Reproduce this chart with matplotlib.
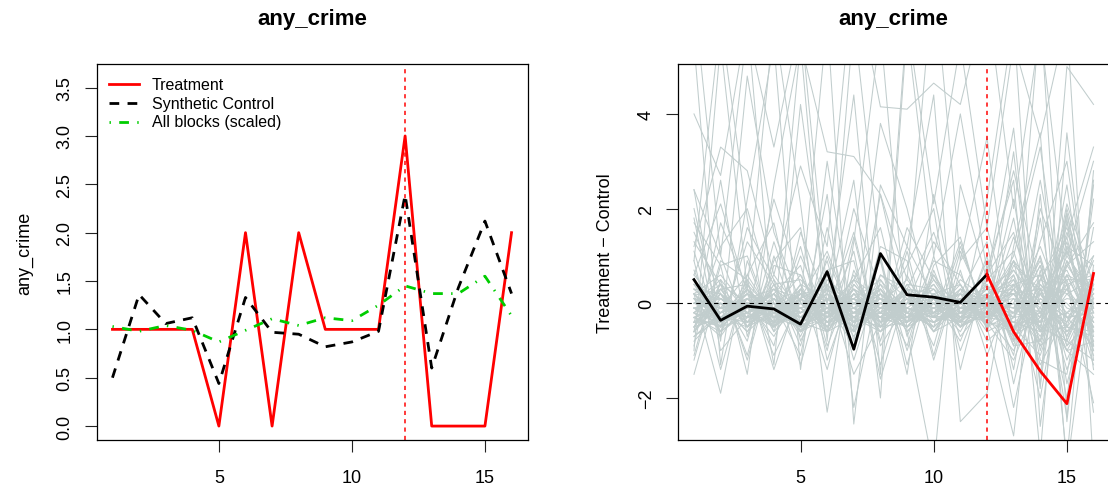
import matplotlib
matplotlib.use("Agg")
import matplotlib.pyplot as plt
import numpy as np

plt.rcParams['font.family'] = ['Liberation Sans', 'DejaVu Sans']

# ---------------- data ----------------
periods = list(range(1, 17))
treatment = [1, 1, 1, 1, 0, 2, 0, 2, 1, 1, 1, 3, 0, 0, 0, 2]
synthetic = [0.50, 1.36, 1.06, 1.12, 0.44, 1.33, 0.97, 0.95, 0.82, 0.87, 0.98, 2.39, 0.60, 1.43, 2.12, 1.37]
all_blocks = [1.03, 0.98, 1.04, 0.99, 0.87, 0.99, 1.11, 1.04, 1.12, 1.09, 1.25, 1.45, 1.37, 1.37, 1.55, 1.14]
treat_period = 12

left_yticks = [0.0, 0.5, 1.0, 1.5, 2.0, 2.5, 3.0, 3.5]
right_yticks = [-2, 0, 2, 4]
xticks = [5, 10, 15]

# placebo gaps (treatment - control) for other blocks
placebo_core = [
    [0.3, -0.2, 0.1, -0.4, 0.2, -0.3, 0.1, -0.5, 0.0, -0.2, 0.3, -0.1, -0.6, 0.4, -0.3, 0.2],
    [-0.5, 0.2, -0.3, 0.1, -0.6, 0.4, -0.2, 0.3, -0.4, 0.1, -0.3, 0.2, 0.5, -0.8, 0.9, -0.4],
    [0.1, -0.6, 0.4, -0.2, 0.0, -0.5, 0.3, -0.1, 0.2, -0.6, 0.0, -0.3, -1.0, 0.3, -0.7, 0.6],
    [-0.2, 0.3, -0.5, 0.5, -0.3, 0.0, -0.6, 0.2, -0.2, 0.4, -0.5, 0.1, 0.2, -0.4, 1.2, -0.9],
    [0.6, -0.1, 0.0, -0.7, 0.3, -0.2, 0.5, -0.4, 0.1, -0.1, 0.2, -0.6, -0.3, 0.8, -1.2, 0.1],
    [-0.7, -0.3, 0.2, 0.0, -0.4, 0.3, -0.1, -0.6, 0.4, -0.3, -0.2, 0.3, 0.7, -0.2, 0.4, -1.1],
    [0.0, 0.4, -0.4, 0.3, -0.1, -0.6, 0.2, 0.1, -0.5, 0.2, 0.4, -0.4, -0.5, -1.1, 0.6, 0.3],
    [-0.3, -0.5, 0.5, -0.3, 0.4, 0.1, -0.4, 0.4, -0.1, -0.4, 0.1, 0.0, 0.9, 0.2, -0.5, -0.6],
    [0.4, 0.1, -0.2, 0.2, -0.7, 0.5, 0.0, -0.3, 0.3, 0.0, -0.6, 0.4, -0.8, 0.5, 1.6, -0.2],
    [-0.1, -0.4, 0.3, -0.5, 0.1, -0.4, 0.4, -0.2, -0.3, 0.5, -0.1, -0.2, 0.3, -0.9, -0.4, 0.9],
    [0.2, 0.6, -0.1, 0.0, -0.2, 0.2, -0.7, 0.0, 0.5, -0.2, 0.3, -0.5, -0.2, 1.0, -0.9, -0.3],
    [-0.4, 0.0, -0.6, 0.4, 0.5, -0.1, 0.3, -0.6, 0.0, 0.3, -0.4, 0.5, 1.1, -0.6, 0.2, 0.5],
    [0.5, -0.3, 0.0, -0.1, -0.5, 0.6, -0.3, 0.3, -0.6, 0.0, 0.2, -0.1, -0.7, -0.3, 1.9, -0.7],
    [-0.6, 0.3, 0.4, -0.6, 0.0, -0.2, 0.1, 0.5, -0.2, -0.5, 0.0, 0.2, 0.4, 0.6, -1.4, 0.0],
    [0.1, -0.1, -0.3, 0.6, -0.2, 0.2, -0.5, -0.1, 0.3, 0.2, -0.3, -0.3, -0.4, -0.6, 0.8, 1.3],
    [-0.2, -0.7, 0.1, -0.2, 0.3, -0.5, 0.6, -0.4, -0.1, -0.3, 0.5, 0.1, 0.6, -1.3, -0.2, -0.5],
    [0.3, 0.2, -0.5, 0.1, -0.3, 0.0, -0.2, 0.2, -0.4, 0.6, -0.2, -0.4, -1.2, 0.2, 1.1, -0.1],
    [-0.8, -0.2, 0.2, -0.4, 0.1, 0.4, -0.4, -0.2, 0.2, -0.1, 0.1, 0.3, 0.2, -0.5, -0.8, 0.7],
    [0.0, 0.5, -0.2, 0.3, -0.6, -0.3, 0.3, 0.0, -0.5, 0.1, -0.5, -0.2, 1.4, 0.0, 0.5, -1.3],
    [-0.3, -0.1, 0.6, -0.3, 0.2, 0.3, -0.6, 0.6, 0.1, -0.6, 0.3, 0.0, -0.1, 0.9, -0.6, 0.3],
    [0.2, -0.4, -0.1, -0.5, 0.4, -0.6, 0.2, -0.3, 0.4, 0.3, -0.1, 0.4, -0.9, -0.8, 2.1, 0.4],
    [-0.5, 0.4, 0.0, 0.2, -0.4, 0.1, 0.0, 0.3, -0.3, -0.2, 0.4, -0.5, 0.8, 0.3, -1.0, -0.8],
    [0.7, -0.6, 0.3, -0.3, -0.1, 0.2, -0.3, -0.5, 0.1, 0.4, -0.3, 0.2, -0.2, -0.4, 0.3, 1.0],
    [-0.1, 0.1, -0.4, 0.4, -0.5, -0.1, 0.5, 0.1, -0.2, -0.4, 0.0, -0.3, 0.0, 1.2, -0.3, -0.2],
    [0.4, -0.3, 0.2, -0.1, 0.6, -0.4, -0.1, 0.4, -0.6, 0.1, 0.2, 0.1, -0.5, -0.2, 1.4, -1.0],
]
placebo_tight = [
    [-0.1, -0.3, -0.2, 0.1, -0.4, -0.1, -0.3, 0.0, -0.2, -0.4, -0.1, -0.2, -0.5, 0.1, -0.3, -0.2],
    [-0.4, -0.1, -0.3, -0.2, 0.0, -0.5, -0.2, -0.3, 0.1, -0.2, -0.3, 0.0, 0.2, -0.6, 0.3, -0.4],
    [0.2, -0.5, 0.0, -0.3, -0.2, 0.1, -0.4, -0.2, -0.3, 0.0, -0.5, -0.1, -0.3, -0.2, -0.8, 0.4],
    [-0.6, 0.1, -0.2, -0.4, 0.1, -0.3, 0.0, -0.4, -0.1, -0.3, 0.1, -0.4, 0.3, -0.3, 0.6, -0.6],
    [0.0, -0.2, 0.2, -0.1, -0.3, 0.2, -0.1, 0.1, -0.4, 0.1, -0.2, 0.1, -0.6, 0.4, -0.2, 0.1],
    [-0.3, -0.6, -0.1, 0.0, -0.5, -0.2, 0.2, -0.5, 0.0, -0.1, -0.4, -0.3, 0.0, -0.9, 0.9, -0.3],
    [0.1, 0.0, -0.4, -0.3, 0.2, -0.4, -0.2, 0.2, -0.2, -0.5, 0.0, 0.1, -0.2, 0.2, -0.5, -0.7],
    [-0.2, -0.4, 0.1, -0.5, -0.1, 0.0, -0.5, -0.1, 0.2, -0.3, -0.2, -0.2, 0.5, -0.4, 1.0, 0.2],
    [-0.5, 0.2, -0.5, 0.0, -0.3, -0.1, 0.1, -0.3, -0.5, 0.2, -0.1, 0.0, -0.4, 0.0, -0.6, -0.1],
    [0.3, -0.2, 0.0, -0.2, 0.1, -0.6, -0.3, 0.0, -0.1, -0.2, 0.2, -0.5, 0.1, -0.7, 0.4, 0.6],
    [-0.3, 0.0, -0.1, 0.2, -0.6, 0.0, -0.4, -0.2, 0.1, -0.6, -0.3, 0.2, -0.8, 0.3, 0.7, -0.5],
    [-0.1, -0.5, -0.3, -0.1, 0.0, -0.3, 0.3, -0.4, -0.3, 0.0, 0.0, -0.3, 0.4, -0.1, -1.0, 0.0],
    [-0.7, -0.2, 0.0, -0.3, -0.2, 0.2, -0.2, 0.1, -0.4, -0.1, -0.4, 0.1, -0.1, -0.5, 1.3, -0.8],
    [0.0, 0.1, -0.3, 0.0, -0.4, -0.2, -0.1, -0.3, 0.0, 0.1, -0.2, -0.1, 0.7, 0.0, -0.4, 0.3],
    [0.2, -0.3, -0.5, -0.2, 0.2, -0.1, -0.5, -0.1, -0.2, -0.3, 0.1, 0.0, -0.3, 0.5, 0.2, -0.4],
    [-0.4, -0.4, 0.2, -0.1, -0.1, -0.4, 0.0, 0.3, -0.3, -0.4, -0.1, -0.2, 0.0, -0.8, 0.5, 0.5],
    [-0.2, 0.2, -0.2, -0.5, 0.0, 0.1, -0.3, -0.5, 0.2, -0.2, 0.0, -0.4, -0.6, 0.1, -0.3, -0.9],
    [0.1, -0.1, 0.1, -0.3, -0.5, -0.3, 0.1, -0.1, -0.1, 0.3, -0.5, 0.2, 0.3, -0.3, 1.5, 0.1],
    [-0.5, -0.3, -0.4, 0.1, -0.2, 0.0, -0.2, -0.2, -0.4, -0.1, 0.2, -0.1, -0.2, 0.6, -0.1, -0.3],
    [0.0, -0.1, 0.0, -0.4, 0.3, -0.2, -0.6, 0.0, -0.2, -0.4, -0.2, 0.0, 0.1, -0.2, 0.8, 0.0],
    [-0.3, 0.0, -0.6, -0.1, -0.3, 0.3, -0.1, -0.4, 0.0, 0.0, -0.3, -0.2, -0.4, -0.4, -0.2, 0.4],
    [0.4, -0.4, -0.2, 0.0, -0.1, -0.5, 0.0, -0.2, -0.5, -0.2, 0.1, -0.3, 0.2, 0.3, 0.0, -0.6],
    [-0.1, -0.2, 0.3, -0.2, -0.5, -0.1, -0.4, 0.1, -0.1, -0.3, -0.4, 0.1, -0.7, -0.1, 1.1, -0.2],
    [-0.6, 0.0, -0.1, -0.3, 0.0, -0.3, 0.2, -0.3, 0.1, -0.5, 0.0, -0.4, 0.6, -0.6, -0.5, 0.2],
    [0.1, -0.6, -0.2, 0.2, -0.2, 0.0, -0.3, -0.6, -0.2, 0.1, -0.1, 0.0, -0.1, 0.2, 0.3, -1.0],
    [-0.2, 0.3, -0.4, -0.2, -0.4, -0.6, 0.0, 0.2, -0.3, -0.2, 0.3, -0.1, 0.4, -0.5, 1.7, -0.1],
    [-0.4, -0.2, 0.1, 0.3, 0.1, -0.2, -0.5, -0.2, 0.3, -0.4, -0.2, 0.3, -0.5, 0.2, -0.7, 0.5],
    [0.2, 0.1, -0.3, -0.4, -0.3, 0.1, 0.1, -0.5, -0.4, 0.0, -0.5, -0.2, 0.0, -0.3, 0.6, -0.5],
    [-0.3, -0.5, 0.0, -0.1, 0.2, -0.4, -0.3, 0.0, 0.0, -0.1, 0.1, -0.3, 0.9, -0.2, 0.1, 0.0],
    [-0.1, 0.0, -0.2, 0.1, -0.6, 0.1, -0.2, -0.3, -0.3, 0.2, -0.3, 0.2, -0.3, 0.8, -0.9, 0.3],
]
placebo_medium = [
    [1.5, 0.2, -0.8, 1.3, -0.4, 0.9, -1.2, 0.6, 0.3, -0.9, 1.1, -0.2, 2.2, -1.0, 0.8, 1.7],
    [-1.2, 0.8, 1.0, -0.5, 1.2, -0.9, 0.5, 1.6, -0.7, 0.6, -0.5, 1.0, -1.4, 1.8, -1.7, 0.4],
    [0.9, -1.4, 0.6, 1.7, -0.8, 0.4, -1.5, -0.4, 1.2, 0.1, -0.8, 0.6, 1.5, -0.6, 2.5, -1.4],
    [2.4, 1.0, -0.5, 0.2, 0.8, -1.0, 1.4, -0.9, 0.0, 1.3, 0.4, -0.8, -0.3, 2.6, -0.5, 1.0],
    [-0.9, 1.7, 0.3, -1.1, 0.1, 1.1, -0.4, 0.9, -1.0, 0.8, 1.4, -0.6, 0.9, -1.5, 1.9, -0.6],
    [1.1, -0.7, 1.6, 0.5, -1.3, 0.7, 0.9, -1.3, 0.6, -0.6, 0.2, 1.3, -1.7, 0.7, -2.0, 2.2],
    [-1.5, 0.5, -1.2, 0.8, 0.6, -0.6, 2.0, 0.2, -0.9, 1.0, -1.0, 0.5, 2.8, 0.3, -1.0, -1.5],
    [0.6, 2.1, 0.2, -0.9, 1.5, 0.0, -0.9, 1.2, 0.9, -1.2, 0.7, -1.1, 0.4, -2.0, 1.2, 0.8],
    [1.8, -1.0, -0.3, 2.2, 0.4, -1.4, 0.7, -0.5, 1.6, 0.5, -0.4, 0.9, -0.9, 1.3, 3.0, -0.9],
    [-0.4, 1.2, 2.0, 0.0, -1.1, 1.6, -0.8, 2.3, -0.2, -0.5, 1.2, -0.3, 1.8, -1.2, -1.5, 1.6],
    [0.2, -1.9, 0.9, -0.6, 1.0, -0.3, 1.1, -1.6, 0.3, 1.5, -0.2, 0.2, -1.1, 2.0, 0.4, -2.1],
    [1.3, 0.4, -1.1, 1.0, -0.6, 2.3, -2.2, 0.5, -0.4, 0.9, 0.6, -0.5, 3.2, -1.7, 2.0, 0.0],
    [-1.1, 0.9, 0.5, -1.4, 0.3, -0.2, 1.5, -0.8, 1.1, -1.1, 0.9, 1.6, -0.6, 1.0, -2.4, 2.6],
    [2.0, -0.5, 1.3, 0.4, -0.9, 1.0, -0.5, 1.0, -1.3, 0.7, -0.7, 0.0, 1.0, 3.3, -0.8, -1.2],
    [-0.6, 2.6, -0.7, 0.9, 1.6, -1.2, 0.4, -0.2, 0.8, 2.0, -1.4, 0.8, -2.2, 0.5, 1.4, 3.3],
]
placebo_wild = [
    [1.2, 3.3, 2.8, 0.6, 2.9, 1.2, 7.0, 4.15, 4.1, 4.65, 4.2, 6.5, 2.0, 5.8, 1.0, 3.0],
    [4.0, 2.7, 6.0, -0.5, 5.5, 3.2, 3.1, 2.3, 0.5, 7.0, 0.9, 3.5, -0.8, 6.2, -2.5, 2.5],
    [6.5, 1.0, 5.8, 3.3, 6.0, 0.2, 4.4, -1.5, 6.0, 2.1, 5.5, 1.6, 5.5, 3.5, 6.0, -3.5],
    [-1.0, 5.5, 0.3, 6.0, 2.1, -2.3, 1.3, 5.8, -0.6, -3.5, 2.5, 0.5, 3.7, -1.8, 5.0, 4.2],
    [2.4, -0.8, 4.8, 1.5, 0.0, 6.0, -2.55, 2.5, 1.2, 4.4, -2.5, -1.9, 1.2, 3.6, -3.5, 0.8],
    [0.9, 6.0, 1.8, -1.3, 4.2, 0.0, 2.6, -2.0, 5.8, 1.0, 4.0, 0.7, 2.6, -3.2, 3.6, -1.2],
    [5.5, -1.3, 2.2, 5.5, -1.4, 3.0, -0.6, 3.8, 2.0, -0.3, 1.3, -0.5, -2.8, 2.3, -3.3, 2.8],
    [1.7, 0.8, -1.5, 2.5, 5.5, -0.8, 6.0, 0.9, -1.5, 2.3, -0.4, 2.2, 6.0, -2.6, 1.8, -2.3],
]

# ---------------- colours ----------------
RED = "#FF0000"
GREEN = "#00CD00"
GREY = "#C1CDCD"

W, H = 1108, 489
fig = plt.figure(figsize=(W / 100, H / 100), dpi=100)

def px_axes(left, top, right, bottom):
    return fig.add_axes([left / W, (H - bottom) / H, (right - left) / W, (bottom - top) / H])

ax1 = px_axes(96.5, 65, 527.5, 441)
ax2 = px_axes(678, 65, 1109.5, 441)

TICK_FS = 13
for ax in (ax1, ax2):
    ax.set_xlim(0.4, 16.6)
    ax.set_xticks(xticks)
    ax.tick_params(axis='both', direction='out', length=8.5, width=0.8, labelsize=TICK_FS, color='#222222')
    ax.tick_params(axis='x', pad=12.5)
    ax.tick_params(axis='y', pad=8)
    for sp in ax.spines.values():
        sp.set_linewidth(0.9)
    ax.set_title("any_crime", fontsize=16, fontweight='bold', pad=29)

# ---- left panel ----
ax1.set_ylim(-0.144, 3.744)
ax1.set_yticks(left_yticks)
ax1.set_yticklabels([f"{v:.1f}" for v in left_yticks], rotation=90, va='center')
ax1.plot(periods, treatment, color=RED, lw=2.0)
ax1.plot(periods, synthetic, color='black', lw=2.0, dashes=(3.5, 3.0))
ax1.plot(periods, all_blocks, color=GREEN, lw=2.0, dashes=(0.5, 3, 3.5, 3))
ax1.axvline(treat_period, color=RED, lw=1.2, dashes=(2.5, 2.5), alpha=0.9)
ax1.set_ylabel("any_crime", fontsize=13, labelpad=17)

# legend (drawn manually, no frame)
leg_items = [("Treatment", dict(color=RED)),
             ("Synthetic Control", dict(color='black', dashes=(3.5, 3.0))),
             ("All blocks (scaled)", dict(color=GREEN, dashes=(0.5, 3, 3.5, 3)))]
ax_w, ax_h = 431.0, 376.0
for i, (lab, st) in enumerate(leg_items):
    ypx = 85 + 19 * i
    yf = (441 - ypx) / ax_h
    x0 = (109 - 96.5) / ax_w
    x1 = (139 - 96.5) / ax_w
    ax1.plot([x0, x1], [yf, yf], transform=ax1.transAxes, lw=2.0, clip_on=False, **st)
    ax1.text((152 - 96.5) / ax_w, yf, lab, transform=ax1.transAxes, fontsize=11.5, va='center', ha='left')

# ---- right panel ----
ax2.set_ylim(-2.887, 5.054)
ax2.set_yticks(right_yticks)
ax2.set_yticklabels([f"{v:d}".replace("-", "\u2212") for v in right_yticks], rotation=90, va='center')
for line in placebo_core + placebo_tight + placebo_medium + placebo_wild:
    ax2.plot(periods, line, color=GREY, lw=0.75)
gap = [t - s for t, s in zip(treatment, synthetic)]
pre = treat_period
ax2.plot(periods[:pre], gap[:pre], color='black', lw=2.0)
ax2.plot(periods[pre - 1:], gap[pre - 1:], color=RED, lw=2.0)
ax2.axhline(0, color='black', lw=0.8, dashes=(4, 4))
ax2.axvline(treat_period, color=RED, lw=1.2, dashes=(2.5, 2.5), alpha=0.9)
ax2.set_ylabel("Treatment \u2212 Control", fontsize=13, labelpad=17)

fig.savefig("out.png", dpi=100)
